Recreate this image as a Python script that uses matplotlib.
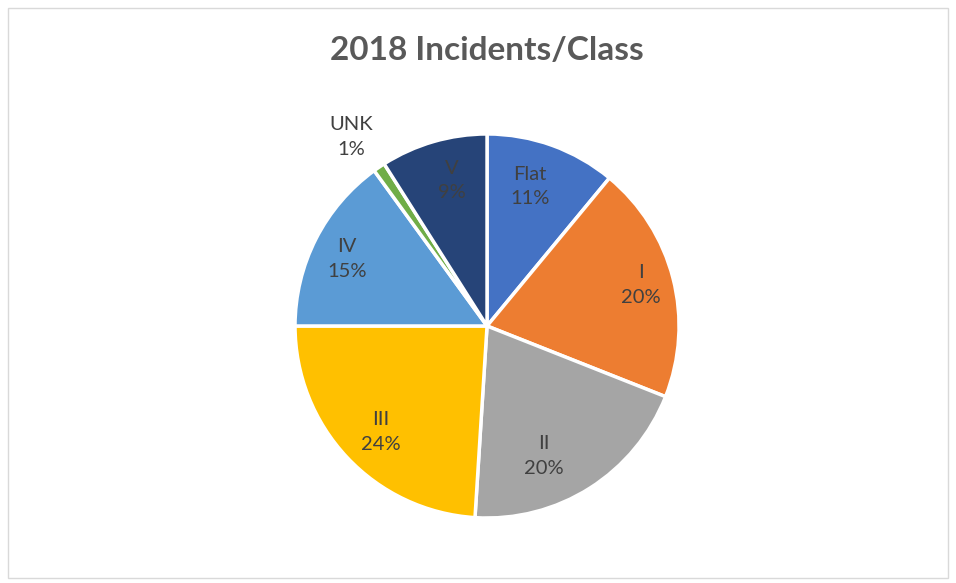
import numpy as np
import matplotlib
matplotlib.use("Agg")
import matplotlib.pyplot as plt
from matplotlib.patches import Rectangle

# data
categories = ["Flat", "I", "II", "III", "IV", "UNK", "V"]
percents = [11, 20, 20, 24, 15, 1, 9]
colors = ["#4472C4", "#ED7D31", "#A5A5A5", "#FFC000", "#5B9BD5", "#70AD47", "#264478"]

plt.rcParams["font.family"] = ["Lato", "DejaVu Sans"]

fig = plt.figure(figsize=(9.56, 5.83), dpi=100)
fig.patch.set_facecolor("white")

# light border around the chart area
fig.patches.append(Rectangle((8 / 956, 5 / 583), 940 / 956, 570 / 583,
                             transform=fig.transFigure, fill=False,
                             edgecolor="#D9D9D9", linewidth=1))

ax = fig.add_axes([0.3086, 0.1115, 0.4017, 0.6587])
wedges, _ = ax.pie(percents, colors=colors, startangle=90, counterclock=False,
                   radius=1.0, wedgeprops=dict(edgecolor="white", linewidth=2.5))
ax.set_xlim(-1, 1)
ax.set_ylim(-1, 1)
ax.set_aspect("equal")
ax.axis("off")

# labels roughly where excel's best fit put them
label_dist = [0.76, 0.83, 0.74, 0.78, 0.81, 1.21, 0.78]
label_shift = [-2.6, -0.6, 8.9, -1.8, -1.5, -1.5, 2.6]  # degrees, clockwise
for w, name, p, d, s in zip(wedges, categories, percents, label_dist, label_shift):
    mid = np.deg2rad((w.theta1 + w.theta2) / 2 - s)
    x, y = d * np.cos(mid), d * np.sin(mid)
    ax.text(x, y, f"{name}\n{p}%", ha="center", va="center", fontsize=14.5,
            color="#404040", linespacing=1.55, clip_on=False)

fig.text(0.5094, 1 - 50 / 583, "2018 Incidents/Class", ha="center", va="center",
         fontsize=24, fontweight="bold", color="#595959")

fig.savefig("out.png", dpi=100)
